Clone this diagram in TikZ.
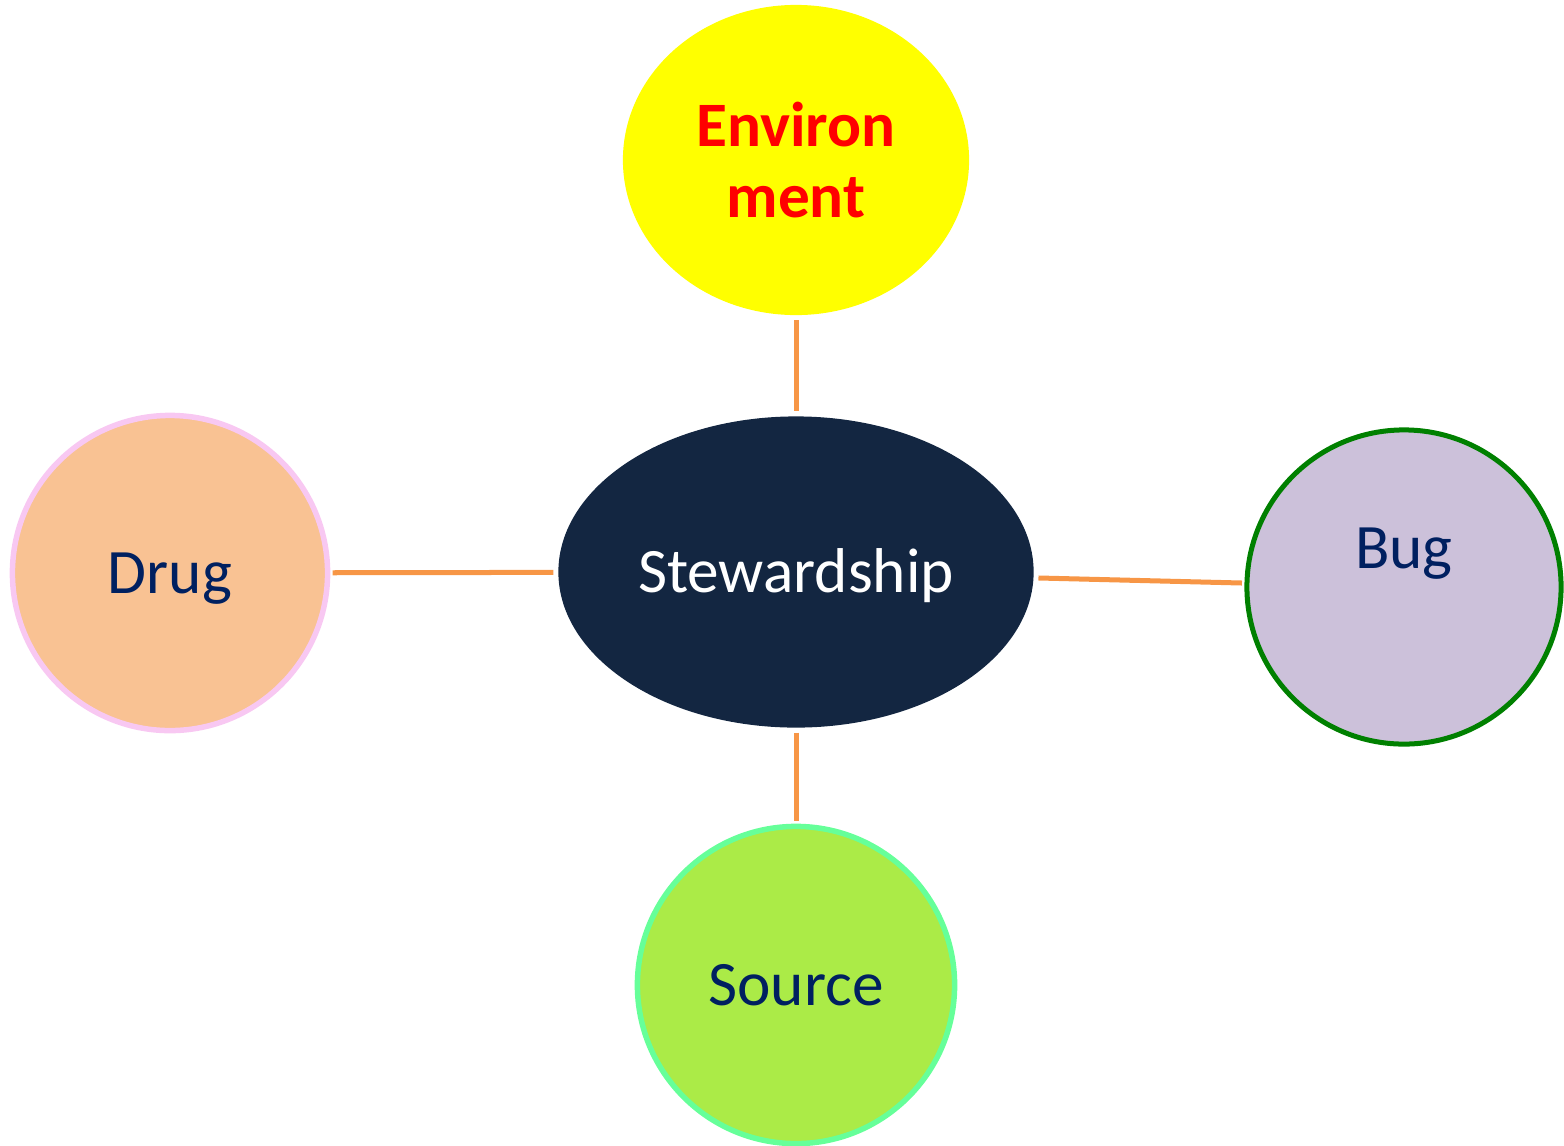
\documentclass[tikz,border=0pt]{standalone}
\usepackage{fontspec}
\setmainfont{Carlito}
\usetikzlibrary{shapes.geometric}
\definecolor{linkorange}{HTML}{F79646}
\definecolor{stewnavy}{HTML}{132641}
\definecolor{textnavy}{HTML}{002060}
\definecolor{drugpeach}{HTML}{F9C293}
\definecolor{drugpink}{HTML}{F8C8F2}
\definecolor{buglilac}{HTML}{CCC1DA}
\definecolor{buggreen}{HTML}{008000}
\definecolor{srclime}{HTML}{ABEB47}
\definecolor{srcmint}{HTML}{66FF99}
\definecolor{envyellow}{HTML}{FFFF00}
\tikzset{
  hub/.style={ellipse, inner sep=0pt, outer sep=0.05cm, font=\fontsize{18}{20}\selectfont},
  spoke/.style={circle, inner sep=0pt, outer sep=0.05cm, text=textnavy,
    text height=0.41cm, text depth=0pt, font=\fontsize{18}{20}\selectfont},
  link/.style={draw=linkorange, line width=0.05cm}
}
\begin{document}
\begin{tikzpicture}[x=0.01cm,y=-0.01cm]
				\useasboundingbox (0,0) rectangle (1564,1145);
				\node[hub, fill=stewnavy, text=white, minimum width=4.75cm, minimum height=3.11cm,
				text height=0.41cm, text depth=0pt] (stew) at (796,572) {Stewardship};
				\node[hub, fill=envyellow, text=red, minimum width=3.46cm, minimum height=3.10cm,
				align=center, font=\fontsize{18}{20}\selectfont\bfseries] (env) at (796,160) {Environ\\ment};
				\node[spoke, fill=drugpeach, draw=drugpink, line width=0.055cm, minimum size=3.15cm] (drug) at (170,573) {Drug};
				\node[spoke, fill=buglilac, draw=buggreen, line width=0.05cm, minimum size=3.14cm,
				label={[text=textnavy, yshift=0.39cm, text height=0.41cm, text depth=0pt,
				font=\fontsize{18}{20}\selectfont]center:Bug}] (bug) at (1404,587) {};
				\node[spoke, fill=srclime, draw=srcmint, line width=0.055cm, minimum size=3.17cm] (src) at (796,985) {Source};
				% connectors
				\draw[link] (env) -- (stew);
				\draw[link] (drug) -- (stew);
				\draw[link] (stew) -- (bug);
				\draw[link] (stew) -- (src);
			\end{tikzpicture}
\end{document}
